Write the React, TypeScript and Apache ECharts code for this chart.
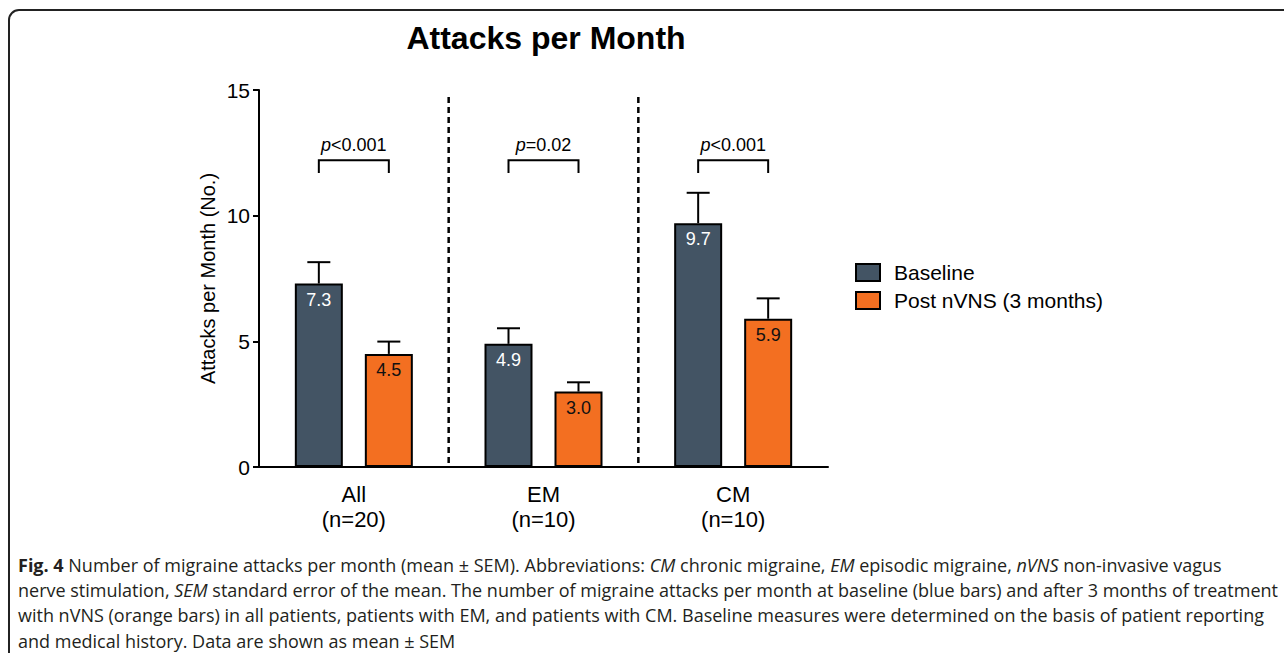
import React, { useEffect, useRef } from "react";
import * as echarts from "echarts";

const categories = ["All\n(n=20)", "EM\n(n=10)", "CM\n(n=10)"];
const seriesNames = ["Baseline", "Post nVNS (3 months)"];
const baselineMeans = [7.3, 4.9, 9.7];
const postMeans = [4.5, 3.0, 5.9];
const baselineUpper = [8.15, 5.52, 10.91];
const postUpper = [4.99, 3.37, 6.71];
const pLabels = ["<0.001", "=0.02", "<0.001"];
const bracketTop = 12.2;
const bracketLeg = 11.7;
const pLabelY = 12.8;
const dividerTop = 14.72;
const yTicks = [0, 5, 10, 15];

const captionLines = [
  "{b|Fig. 4} Number of migraine attacks per month (mean ± SEM). Abbreviations: {i|CM} chronic migraine, {i|EM} episodic migraine, {i|nVNS} non-invasive vagus",
  "nerve stimulation, {i|SEM} standard error of the mean. The number of migraine attacks per month at baseline (blue bars) and after 3 months of treatment",
  "with nVNS (orange bars) in all patients, patients with EM, and patients with CM. Baseline measures were determined on the basis of patient reporting",
  "and medical history. Data are shown as mean ± SEM",
];

const BLUE = "#435464";
const ORANGE = "#f36f21";
const BAR_W = 48;
const BAR_GAP = 22;
const OFFSET = (BAR_W + BAR_GAP) / 2;
const SANS = "Liberation Sans, Arial, sans-serif";

export default function App() {
  const ref = useRef<HTMLDivElement>(null);
  useEffect(() => {
    document.body.style.margin = "0";
    const chart = echarts.init(ref.current!, null, { renderer: "svg" });
    const capFont = "Open Sans";
    const capSize = 18;
    const rich = {
      b: { fontFamily: capFont, fontSize: capSize, fontWeight: "bold" as const, fill: "#231f20" },
      i: { fontFamily: capFont, fontSize: capSize, fontStyle: "italic" as const, fill: "#231f20" },
    };
    const errorSeries = (upper: number[], means: number[], off: number) => ({
      type: "custom" as const,
      z: 1,
      data: means.map((m, i) => [i, m, upper[i]]),
      encode: { x: 0, y: 1 },
      renderItem: (params: any, api: any) => {
        const i = api.value(0);
        const p0 = api.coord([i, api.value(1)]);
        const p1 = api.coord([i, api.value(2)]);
        const x = p0[0] + off;
        return {
          type: "group",
          children: [
            { type: "line", shape: { x1: x, y1: p0[1], x2: x, y2: p1[1] }, style: { stroke: "#000", lineWidth: 2 } },
            { type: "line", shape: { x1: x - 11.5, y1: p1[1], x2: x + 11.5, y2: p1[1] }, style: { stroke: "#000", lineWidth: 2 } },
          ],
        };
      },
    });
    chart.setOption({
      animation: false,
      textStyle: { fontFamily: SANS },
      graphic: [
        {
          type: "rect",
          shape: { x: 9, y: 10, width: 1400, height: 800, r: 10 },
          style: { fill: "none", stroke: "#222", lineWidth: 2 },
        },
        {
          type: "text",
          x: 546,
          y: 38,
          style: {
            text: "Attacks per Month",
            fontFamily: SANS,
            fontSize: 32,
            fontWeight: "bold",
            fill: "#000",
            textAlign: "center",
            textVerticalAlign: "middle",
          },
        },
        ...captionLines.map((t, k) => ({
          type: "text",
          x: 18,
          y: 565 + k * 25.2,
          style: {
            text: t,
            fontFamily: capFont,
            fontSize: capSize,
            fill: "#231f20",
            textVerticalAlign: "middle",
            rich,
          },
        })),
      ],
      legend: {
        data: seriesNames,
        orient: "vertical",
        left: 855,
        top: 262,
        padding: 0,
        itemWidth: 24,
        itemHeight: 17,
        itemGap: 7,
        icon: "rect",
        textStyle: { fontSize: 21, color: "#000", fontFamily: SANS, padding: [0, 0, 0, 9] },
      },
      grid: { left: 259, right: 456, top: 90, bottom: 186, containLabel: false },
      xAxis: {
        type: "category",
        data: categories,
        axisLine: { lineStyle: { color: "#000", width: 2 } },
        axisTick: { show: false },
        axisLabel: { fontSize: 22, color: "#000", lineHeight: 25, margin: 15 },
      },
      yAxis: {
        type: "value",
        min: 0,
        max: 15,
        interval: 5,
        name: "Attacks per Month (No.)",
        nameLocation: "middle",
        nameGap: 41,
        nameTextStyle: { fontSize: 20, color: "#000" },
        axisLine: { show: true, lineStyle: { color: "#000", width: 2 } },
        axisTick: { show: true, length: 6, lineStyle: { color: "#000", width: 2 } },
        axisLabel: {
          fontSize: 21,
          color: "#000",
          margin: 9,
          formatter: (v: number) => (yTicks.includes(v) ? String(v) : ""),
        },
        splitLine: { show: false },
      },
      series: [
        {
          name: seriesNames[0],
          type: "bar",
          data: baselineMeans,
          barWidth: BAR_W,
          barGap: `${(BAR_GAP / BAR_W) * 100}%`,
          z: 2,
          itemStyle: { color: BLUE, borderColor: "#000", borderWidth: 2 },
          label: {
            show: true,
            position: "insideTop",
            distance: 7,
            color: "#fff",
            fontSize: 18,
            formatter: (p: any) => Number(p.value).toFixed(1),
          },
        },
        {
          name: seriesNames[1],
          type: "bar",
          data: postMeans,
          barWidth: BAR_W,
          z: 2,
          itemStyle: { color: ORANGE, borderColor: "#000", borderWidth: 2 },
          label: {
            show: true,
            position: "insideTop",
            distance: 7,
            color: "#111",
            fontSize: 18,
            formatter: (p: any) => Number(p.value).toFixed(1),
          },
        },
        errorSeries(baselineUpper, baselineMeans, -OFFSET),
        errorSeries(postUpper, postMeans, OFFSET),
        {
          type: "custom",
          z: 3,
          data: pLabels.map((_, i) => [i, bracketTop]),
          encode: { x: 0, y: 1 },
          renderItem: (params: any, api: any) => {
            const i = api.value(0);
            const top = api.coord([i, bracketTop]);
            const leg = api.coord([i, bracketLeg]);
            const lab = api.coord([i, pLabelY]);
            const xl = top[0] - OFFSET;
            const xr = top[0] + OFFSET;
            return {
              type: "group",
              children: [
                {
                  type: "polyline",
                  shape: { points: [[xl, leg[1]], [xl, top[1]], [xr, top[1]], [xr, leg[1]]] },
                  style: { stroke: "#000", lineWidth: 2, fill: "none" },
                },
                {
                  type: "text",
                  x: top[0],
                  y: lab[1],
                  style: {
                    text: "{i|p}" + pLabels[i],
                    fontSize: 18,
                    fontFamily: SANS,
                    fill: "#000",
                    textAlign: "center",
                    textVerticalAlign: "middle",
                    rich: { i: { fontStyle: "italic", fontSize: 18, fontFamily: SANS, fill: "#000" } },
                  },
                },
              ],
            };
          },
        },
        {
          type: "custom",
          z: 3,
          data: [[0, 0], [1, 0]],
          encode: { x: 0, y: 1 },
          renderItem: (params: any, api: any) => {
            const i = api.value(0);
            const band = api.size([1, 0])[0];
            const b = api.coord([i, 0]);
            const t = api.coord([i, dividerTop]);
            const x = b[0] + band / 2;
            return {
              type: "line",
              shape: { x1: x, y1: t[1], x2: x, y2: b[1] },
              style: { stroke: "#000", lineWidth: 2.5, lineDash: [6, 4] },
            };
          },
        },
      ],
    });
    return () => chart.dispose();
  }, []);
  return <div ref={ref} style={{ width: 1284, height: 653 }} />;
}
